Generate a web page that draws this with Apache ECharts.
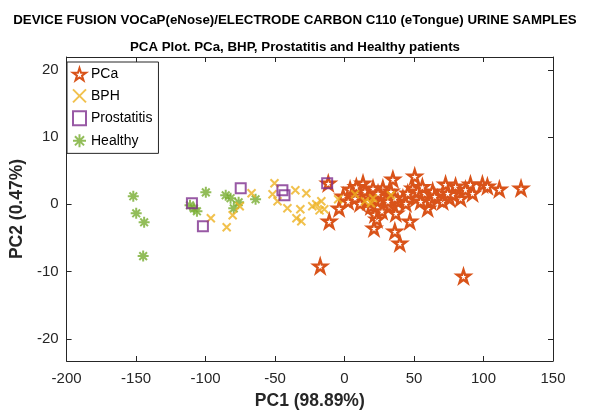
<!DOCTYPE html>
<html><head><meta charset="utf-8">
<script src="https://cdn.jsdelivr.net/npm/echarts@6/dist/echarts.min.js"></script>
<style>html,body{margin:0;padding:0;background:#fff}#c{width:590px;height:416px}</style>
</head><body><div id="c"></div>
<script>
const xTicks = [-200, -150, -100, -50, 0, 50, 100, 150];
const yTicks = [-20, -10, 0, 10, 20];
const seriesNames = ['PCa', 'BPH', 'Prostatitis', 'Healthy'];

const pcaPoints = [
  [-11.7,3.12],[-11.0,-2.53],[-3.9,-0.6],[4.0,2.23],[4.7,1.19],[13.3,3.12],[14.7,1.93],[20.5,2.38],
  [21.9,0.74],[19.0,-0.3],[21.9,-1.49],[23.3,-2.23],[21.2,-3.57],[27.6,2.38],[29.1,0.89],[34.8,3.72],
  [33.4,1.93],[32.6,-0.3],[36.9,-1.34],[36.2,-4.01],[39.8,-5.8],[47.0,-2.53],[42.0,0.89],[50.5,4.16],
  [49.1,2.38],[51.3,0.89],[59.8,-0.6],[57.7,1.64],[63.4,1.93],[67.0,0.89],[72.7,2.97],[75.6,0.89],
  [79.9,2.68],[83.5,0.89],[90.6,2.97],[92.1,1.64],[99.2,2.97],[102.8,2.68],[111.4,2.23],[127.0,2.38],
  [-17.5,-9.2],[85.6,-10.7],
  [-1.0,1.19],[2.6,0.45],[7.6,0.89],[11.2,0.15],[16.9,1.19],[26.2,1.19],[31.2,0.45],[38.4,0.45],
  [44.1,0.15],[54.8,0.45],[62.0,0.45],[70.6,0.45],[77.7,1.49],[16.9,0.45],[24.1,1.64],[36.2,0.89],
  [45.5,1.64],[52.7,1.93],[64.9,1.19],[74.2,1.64],[8.5,2.6],[27.0,-1.0],[56.0,2.6],[87.0,2.2]
];
const bphPoints = [
  [-96.2,-2.08],[-84.8,-3.42],[-80.5,-1.64],[-75.4,-0.3],[-66.9,1.64],[-50.4,3.12],[-51.8,1.49],
  [-48.2,0.45],[-41.1,-0.6],[-35.4,2.08],[-27.5,1.64],[-31.8,-0.74],[-34.6,-2.08],[-31.1,-2.53],
  [-20.3,0],[-16.7,0.45],[-14.6,-0.74],[-4.6,0.74],[7.6,1.49],[14.7,0.45],[19.0,0.15],[20.5,0.89],
  [33.4,1.34],[-23.2,-0.3],[-18.0,-0.9]
];
const prostatitisPoints = [
  [-109.8,0.15],[-101.9,-3.27],[-74.7,2.38],[-44.7,2.08],[-43.2,1.34],[-12.5,3.12]
];
const healthyPoints = [
  [-152.0,1.19],[-149.9,-1.34],[-144.2,-2.68],[-144.9,-7.7],[-111.2,-0.15],[-106.2,-1.04],
  [-99.8,1.78],[-85.5,1.34],[-76.2,0.3],[-79.7,-0.6],[-64.0,0.74],[-108.4,-0.6],[-82.0,0.9]
];

const FONT = "'Liberation Sans',Arial,sans-serif";
const starPath = 'path://M50,0 L61.8,36.2 L100,36.2 L69.1,58.6 L80.9,95.1 L50,72.7 L19.1,95.1 L30.9,58.6 L0,36.2 L38.2,36.2 Z';
const xPath = 'path://M0,0 L10,10 M10,0 L0,10';
const astPath = 'path://M5,0 L5,10 M0,5 L10,5 M1.5,1.5 L8.5,8.5 M8.5,1.5 L1.5,8.5';

const chart = echarts.init(document.getElementById('c'), null, {renderer: 'canvas'});
const lineCol = '#262626';
const axisLine = {show: true, onZero: false, lineStyle: {color: lineCol, width: 1}};
const tick = {show: true, inside: true, length: 5, lineStyle: {color: lineCol}};
chart.setOption({
  animation: false,
  title: [
    {text: 'DEVICE FUSION VOCaP(eNose)/ELECTRODE CARBON C110 (eTongue) URINE SAMPLES', left: 'center', top: 9,
     textStyle: {fontFamily: FONT, fontSize: 13.3, fontWeight: 'bold', color: '#000'}},
    {text: 'PCA Plot. PCa, BHP, Prostatitis and Healthy patients', left: 'center', top: 36,
     textStyle: {fontFamily: FONT, fontSize: 13.3, fontWeight: 'bold', color: '#000'}}
  ],
  grid: {left: 62, right: 37, top: 57, bottom: 55, containLabel: false},
  legend: {
    orient: 'vertical', left: 67, top: 62, padding: [5, 6, 5, 5], itemGap: 7,
    itemWidth: 13, itemHeight: 14,
    backgroundColor: '#fff', borderColor: lineCol, borderWidth: 1,
    textStyle: {fontFamily: FONT, fontSize: 14, color: '#000'},
    data: seriesNames
  },
  xAxis: [
    {type: 'value', min: -200, max: 150, interval: 50, position: 'bottom',
      name: 'PC1 (98.89%)', nameLocation: 'middle', nameGap: 31,
      nameTextStyle: {fontFamily: FONT, fontSize: 17.5, fontWeight: 'bold', color: lineCol},
      axisLabel: {fontFamily: FONT, fontSize: 15, color: lineCol, margin: 10},
      axisLine: axisLine, axisTick: tick, splitLine: {show: false}},
    {type: 'value', min: -200, max: 150, interval: 50, position: 'top',
      axisLabel: {show: false}, axisLine: axisLine, axisTick: tick, splitLine: {show: false}}
  ],
  yAxis: [
    {type: 'value', min: -23.3, max: 21.9, position: 'left',
      name: 'PC2 (0.47%)', nameLocation: 'middle', nameGap: 31,
      nameTextStyle: {fontFamily: FONT, fontSize: 17.5, fontWeight: 'bold', color: lineCol},
      axisLabel: {fontFamily: FONT, fontSize: 15, color: lineCol, margin: 8, customValues: yTicks},
      axisTick: Object.assign({customValues: yTicks}, tick),
      axisLine: axisLine, splitLine: {show: false}},
    {type: 'value', min: -23.3, max: 21.9, position: 'right',
      axisLabel: {show: false, customValues: yTicks},
      axisTick: Object.assign({customValues: yTicks}, tick),
      axisLine: axisLine, splitLine: {show: false}}
  ],
  series: [
    {name: 'PCa', type: 'scatter', data: pcaPoints, symbol: starPath, symbolSize: 13, z: 4,
     itemStyle: {color: '#fff', borderColor: '#D95319', borderWidth: 2.4, opacity: 1}},
    {name: 'BPH', type: 'scatter', data: bphPoints, symbol: xPath, symbolSize: 8, z: 5,
     itemStyle: {color: 'transparent', borderColor: '#EDB120', borderWidth: 2}},
    {name: 'Prostatitis', type: 'scatter', data: prostatitisPoints, symbol: 'rect', symbolSize: 10, z: 6,
     itemStyle: {color: 'transparent', borderColor: '#7E2F8E', borderWidth: 2}},
    {name: 'Healthy', type: 'scatter', data: healthyPoints, symbol: astPath, symbolSize: 11, z: 3,
     itemStyle: {color: 'transparent', borderColor: '#77AC30', borderWidth: 2}}
  ]
});
</script></body></html>
